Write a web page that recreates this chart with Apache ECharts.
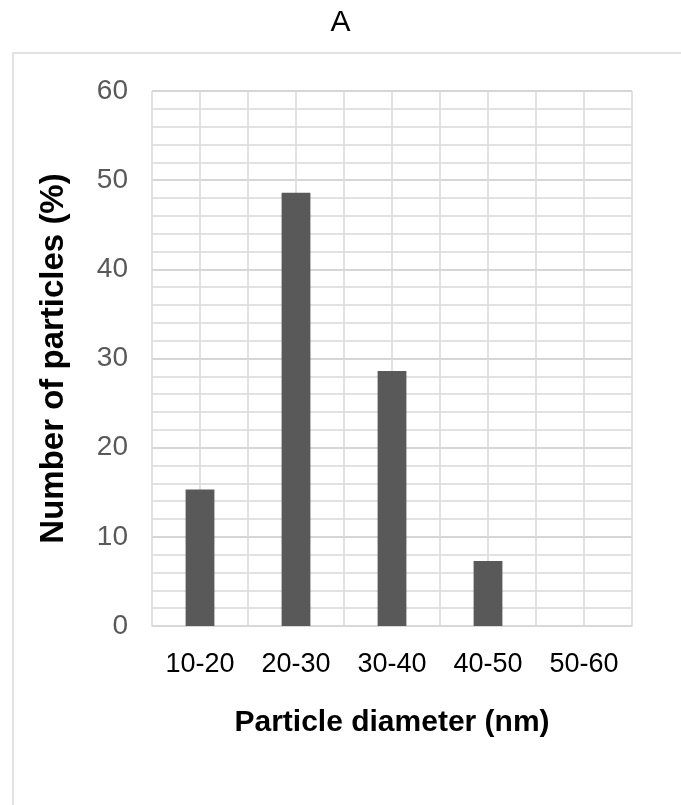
<!DOCTYPE html>
<html>
<head>
<meta charset="utf-8">
<script src="https://cdn.jsdelivr.net/npm/echarts@6/dist/echarts.min.js"></script>
<style>
    html, body { margin: 0; padding: 0; background: #fff; }
    #chart { width: 681px; height: 805px; }
</style>
</head>
<body>
<div id="chart"></div>
<script>
    // 数据
    var categories = ['10-20', '20-30', '30-40', '40-50', '50-60'];
    var percentValues = [15.3, 48.6, 28.6, 7.3, 0];
    var yTicks = [0, 10, 20, 30, 40, 50, 60];

    var fontName = '"Liberation Sans", Arial, sans-serif';
    var gridColor = '#d9d9d9';

    var option = {
        backgroundColor: '#fff',
        animation: false,
        title: {
            text: 'A',
            left: 'center',
            top: 3,
            textStyle: {
                fontFamily: fontName,
                fontSize: 30,
                fontWeight: 'normal',
                color: '#000'
            }
        },
        // 外框
        graphic: [{
            type: 'rect',
            shape: { x: 13, y: 53, width: 720, height: 800 },
            style: { fill: 'none', stroke: gridColor, lineWidth: 1.5 },
            silent: true
        }],
        grid: {
            left: 152,
            right: 49,
            top: 91,
            bottom: 179
        },
        xAxis: [
            {
                type: 'category',
                data: categories,
                name: 'Particle diameter (nm)',
                nameLocation: 'middle',
                nameGap: 82,
                nameTextStyle: {
                    fontFamily: fontName,
                    fontSize: 30,
                    fontWeight: 'bold',
                    color: '#000'
                },
                axisLine: { show: true, lineStyle: { color: gridColor, width: 1.5 } },
                axisTick: { show: false },
                axisLabel: {
                    fontFamily: fontName,
                    fontSize: 27,
                    color: '#000',
                    margin: 25
                },
                splitLine: { show: false }
            },
            {
                // 只用来画半格竖线
                type: 'value',
                position: 'bottom',
                min: 0,
                max: 10,
                interval: 1,
                axisLine: { show: false },
                axisTick: { show: false },
                axisLabel: { show: false },
                splitLine: { show: true, lineStyle: { color: gridColor, width: 1.5 } }
            }
        ],
        yAxis: {
            type: 'value',
            min: yTicks[0],
            max: yTicks[yTicks.length - 1],
            interval: 10,
            name: 'Number of particles (%)',
            nameLocation: 'middle',
            nameGap: 82,
            nameTextStyle: {
                fontFamily: fontName,
                fontSize: 33,
                fontWeight: 'bold',
                color: '#000'
            },
            axisLine: { show: false },
            axisTick: { show: false },
            axisLabel: {
                fontFamily: fontName,
                fontSize: 28,
                color: '#595959',
                margin: 24
            },
            splitLine: { show: true, lineStyle: { color: '#c8c8c8', width: 1.5 } },
            minorTick: { show: false, splitNumber: 5 },
            minorSplitLine: { show: true, lineStyle: { color: gridColor, width: 1.5 } }
        },
        series: [{
            type: 'bar',
            xAxisIndex: 0,
            data: percentValues,
            barWidth: '30%',
            itemStyle: { color: '#595959' }
        }]
    };

    var myChart = echarts.init(document.getElementById('chart'), null, { renderer: 'canvas' });
    myChart.setOption(option);
</script>
</body>
</html>
